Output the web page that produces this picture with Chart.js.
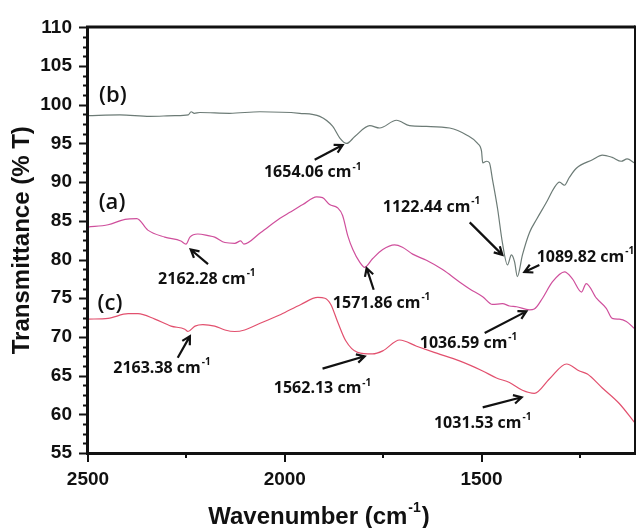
<!DOCTYPE html>
<html>
<head>
<meta charset="utf-8">
<script src="https://cdn.jsdelivr.net/npm/chart.js@4.4.1/dist/chart.umd.min.js"></script>
<style>
  html, body { margin: 0; padding: 0; background: #fff; }
  #wrap { width: 639px; height: 528px; position: relative; }
</style>
</head>
<body>
<div id="wrap"><canvas id="ftir"></canvas></div>
<script>
// spectra: wavenumber (cm-1) and transmittance (%)
const wnB = [2500, 2419, 2343, 2279, 2245, 2238, 2230, 2216, 2140, 2063, 1962, 1911, 1878, 1860, 1843, 1822, 1784, 1759, 1716, 1683, 1640, 1581, 1538, 1510, 1500, 1497, 1487, 1480, 1472, 1459, 1447, 1434, 1424, 1416, 1409, 1396, 1378, 1360, 1335, 1315, 1302, 1289, 1277, 1259, 1218, 1193, 1168, 1145, 1130, 1112];
const tB  = [98.6, 98.7, 98.5, 98.6, 98.7, 99.1, 98.9, 99.0, 98.9, 99.1, 98.9, 98.5, 97.2, 95.7, 95.0, 95.9, 97.3, 97.0, 98.0, 97.3, 97.2, 97.0, 96.1, 95.0, 94.0, 92.5, 92.7, 92.5, 90.3, 86.5, 82.2, 79.3, 80.6, 79.7, 77.8, 80.6, 83.5, 85.2, 87.4, 89.3, 90.0, 89.6, 90.6, 91.8, 92.9, 93.5, 93.2, 92.7, 93.0, 92.5];

const wnA = [2500, 2449, 2406, 2376, 2348, 2305, 2264, 2251, 2241, 2221, 2195, 2178, 2152, 2127, 2112, 2104, 2061, 2013, 1987, 1954, 1919, 1904, 1886, 1866, 1853, 1840, 1827, 1810, 1797, 1777, 1751, 1721, 1701, 1675, 1640, 1599, 1556, 1530, 1497, 1472, 1447, 1429, 1411, 1378, 1366, 1345, 1320, 1289, 1269, 1246, 1234, 1208, 1183, 1168, 1150, 1132, 1112];
const tA  = [84.2, 84.5, 85.2, 85.3, 83.8, 82.9, 82.4, 82.0, 82.9, 83.3, 83.1, 82.9, 82.2, 82.1, 82.4, 82.0, 83.5, 85.3, 86.1, 87.1, 88.1, 88.0, 87.1, 86.7, 85.7, 83.1, 81.3, 79.7, 79.0, 80.1, 81.3, 81.9, 81.6, 80.7, 79.9, 78.7, 77.1, 76.2, 75.2, 74.2, 74.3, 74.0, 73.9, 73.5, 73.6, 75.0, 77.1, 78.4, 77.5, 75.8, 76.9, 75.0, 73.7, 72.4, 72.3, 72.0, 71.1];

const wnC = [2500, 2449, 2398, 2373, 2330, 2289, 2254, 2246, 2228, 2208, 2178, 2152, 2127, 2102, 2061, 2010, 1959, 1916, 1898, 1883, 1866, 1845, 1815, 1777, 1751, 1708, 1665, 1614, 1556, 1497, 1462, 1429, 1396, 1366, 1327, 1284, 1251, 1231, 1193, 1150, 1112];
const tC  = [72.3, 72.4, 73.0, 73.0, 72.3, 71.4, 71.0, 70.7, 71.4, 71.6, 71.4, 70.9, 70.7, 70.9, 71.8, 72.9, 74.2, 75.1, 75.0, 74.2, 72.0, 69.5, 68.0, 67.8, 68.2, 69.6, 68.8, 67.9, 66.9, 65.6, 64.7, 64.1, 63.1, 62.7, 64.6, 66.5, 65.6, 65.2, 63.4, 61.4, 59.0];

const xMajor = [2500, 2000, 1500];
const xMinor = [2250, 1750, 1250];
const yMajorStep = 5;
const yMinorStep = 1.25;

// peak notes: label position, arrow tail, arrow head (all in data units)
const notes = [
  { num: '1654.06', at: [1929, 91.2], from: [1924, 92.9], to: [1853, 94.8] },
  { num: '2162.28', at: [2198, 77.4], from: [2195, 79.4], to: [2239, 81.3] },
  { num: '2163.38', at: [2312, 65.9], from: [2272, 67.3], to: [2241, 70.1] },
  { num: '1571.86', at: [1754, 74.3], from: [1774, 76.1], to: [1792, 78.9] },
  { num: '1562.13', at: [1904, 63.3], from: [1904, 65.9], to: [1797, 67.5] },
  { num: '1122.44', at: [1627, 86.7], from: [1530, 84.8], to: [1447, 80.6] },
  { num: '1089.82', at: [1236, 80.3], from: [1353, 79.3], to: [1391, 78.4] },
  { num: '1036.59', at: [1533, 69.2], from: [1492, 70.5], to: [1386, 73.3] },
  { num: '1031.53', at: [1497, 58.8], from: [1497, 60.9], to: [1398, 62.2] }
];
const tags = [
  { text: '(b)', at: [2437, 101.2] },
  { text: '(a)', at: [2439, 87.4] },
  { text: '(c)', at: [2444, 74.3] }
];

const toPts = (xs, ys) => xs.map((v, i) => ({ x: v, y: ys[i] }));

function arrow(ctx, x1, y1, x2, y2) {
  const ang = Math.atan2(y2 - y1, x2 - x1);
  const h = 9;
  ctx.beginPath();
  ctx.moveTo(x1, y1);
  ctx.lineTo(x2, y2);
  ctx.moveTo(x2 - h * Math.cos(ang - 0.5), y2 - h * Math.sin(ang - 0.5));
  ctx.lineTo(x2, y2);
  ctx.lineTo(x2 - h * Math.cos(ang + 0.5), y2 - h * Math.sin(ang + 0.5));
  ctx.stroke();
}

function cmText(ctx, main, sup, cx, cy, size, supSize, weight, family) {
  ctx.font = weight + ' ' + size + 'px ' + family;
  const w1 = ctx.measureText(main).width;
  ctx.font = weight + ' ' + supSize + 'px ' + family;
  const w2 = ctx.measureText(sup).width;
  const sx = cx - (w1 + w2 + 1) / 2;
  ctx.textAlign = 'left';
  ctx.textBaseline = 'middle';
  ctx.font = weight + ' ' + size + 'px ' + family;
  ctx.fillText(main, sx, cy);
  ctx.font = weight + ' ' + supSize + 'px ' + family;
  ctx.fillText(sup, sx + w1 + 1, cy - size * 0.38);
}

const decor = {
  id: 'decor',
  afterDatasetsDraw(chart) {
    const { ctx, chartArea: a, scales: { x, y } } = chart;
    ctx.save();
    ctx.strokeStyle = '#111';
    ctx.fillStyle = '#111';

    // frame
    ctx.lineWidth = 3;
    ctx.beginPath();
    ctx.moveTo(a.left, a.top - 0.5); ctx.lineTo(a.right, a.top - 0.5);
    ctx.moveTo(a.left - 0.5, a.top - 2); ctx.lineTo(a.left - 0.5, a.bottom + 1.5);
    ctx.moveTo(a.left - 2, a.bottom + 0.5); ctx.lineTo(a.right, a.bottom + 0.5);
    ctx.stroke();
    ctx.lineWidth = 2;
    ctx.beginPath();
    ctx.moveTo(a.right, a.top - 2); ctx.lineTo(a.right, a.bottom + 2);
    ctx.stroke();

    // ticks
    ctx.lineWidth = 2;
    ctx.beginPath();
    for (let v = y.min; v <= y.max + 0.01; v += yMinorStep) {
      const py = Math.round(y.getPixelForValue(v)) + 0.5;
      const major = Math.abs(v / yMajorStep - Math.round(v / yMajorStep)) < 0.01;
      ctx.moveTo(a.left - 1, py);
      ctx.lineTo(a.left - (major ? 9 : 5), py);
    }
    xMajor.forEach(v => {
      const px = Math.round(x.getPixelForValue(v));
      ctx.moveTo(px, a.bottom + 1); ctx.lineTo(px, a.bottom + 9);
    });
    xMinor.forEach(v => {
      const px = Math.round(x.getPixelForValue(v));
      ctx.moveTo(px, a.bottom + 1); ctx.lineTo(px, a.bottom + 5);
    });
    ctx.stroke();

    // arrows and peak labels
    ctx.lineWidth = 2.2;
    notes.forEach(n => {
      arrow(ctx, x.getPixelForValue(n.from[0]), y.getPixelForValue(n.from[1]),
                 x.getPixelForValue(n.to[0]), y.getPixelForValue(n.to[1]));
      cmText(ctx, n.num + ' cm', '-1', x.getPixelForValue(n.at[0]), y.getPixelForValue(n.at[1]),
             16, 10, 'bold', '"Open Sans", sans-serif');
    });

    // curve tags
    ctx.font = '600 22px "Open Sans", sans-serif';
    ctx.textAlign = 'center';
    ctx.textBaseline = 'middle';
    tags.forEach(t => ctx.fillText(t.text, x.getPixelForValue(t.at[0]), y.getPixelForValue(t.at[1])));

    // axis titles
    const fam = '"Liberation Sans", Arial, sans-serif';
    ctx.save();
    ctx.translate(22, (a.top + a.bottom) / 2);
    ctx.rotate(-Math.PI / 2);
    ctx.font = 'bold 24px ' + fam;
    ctx.textAlign = 'center';
    ctx.textBaseline = 'middle';
    ctx.fillText('Transmittance (% T)', 0, 0);
    ctx.restore();

    ctx.font = 'bold 24px ' + fam;
    const wa = ctx.measureText('Wavenumber (cm').width;
    ctx.font = 'bold 14px ' + fam;
    const wb = ctx.measureText('-1').width;
    ctx.font = 'bold 24px ' + fam;
    const wc = ctx.measureText(')').width;
    const sx = 319 - (wa + wb + wc + 2) / 2;
    ctx.textAlign = 'left';
    ctx.textBaseline = 'alphabetic';
    ctx.fillText('Wavenumber (cm', sx, 524);
    ctx.font = 'bold 14px ' + fam;
    ctx.fillText('-1', sx + wa + 1, 512);
    ctx.font = 'bold 24px ' + fam;
    ctx.fillText(')', sx + wa + wb + 2, 524);

    ctx.restore();
  }
};

new Chart(document.getElementById('ftir'), {
  type: 'line',
  data: {
    datasets: [
      { label: '(b)', data: toPts(wnB, tB), borderColor: '#6c7b76', borderWidth: 1.2 },
      { label: '(a)', data: toPts(wnA, tA), borderColor: '#cf4f9c', borderWidth: 1.2 },
      { label: '(c)', data: toPts(wnC, tC), borderColor: '#e2506e', borderWidth: 1.2 }
    ]
  },
  options: {
    responsive: true,
    maintainAspectRatio: false,
    animation: false,
    layout: { padding: { top: 23, right: 4, left: 0, bottom: 0 } },
    elements: {
      point: { radius: 0 },
      line: { cubicInterpolationMode: 'monotone', fill: false }
    },
    plugins: { legend: { display: false }, tooltip: { enabled: false } },
    scales: {
      x: {
        type: 'linear',
        reverse: true,
        min: 1110,
        max: 2500,
        afterBuildTicks: s => { s.ticks = xMajor.map(v => ({ value: v })); },
        afterFit: s => { s.height = 75; },
        grid: { display: false, drawTicks: false },
        border: { display: false },
        ticks: {
          padding: 15,
          maxRotation: 0,
          color: '#111',
          callback: v => String(v),
          font: { family: '"Liberation Sans", Arial, sans-serif', size: 19, weight: 'bold' }
        }
      },
      y: {
        min: 55,
        max: 110,
        afterFit: s => { s.width = 88; },
        grid: { display: false, drawTicks: false },
        border: { display: false },
        ticks: {
          stepSize: yMajorStep,
          padding: 16,
          color: '#111',
          callback: v => String(v),
          font: { family: '"Liberation Sans", Arial, sans-serif', size: 19, weight: 'bold' }
        }
      }
    }
  },
  plugins: [decor]
});
</script>
</body>
</html>
